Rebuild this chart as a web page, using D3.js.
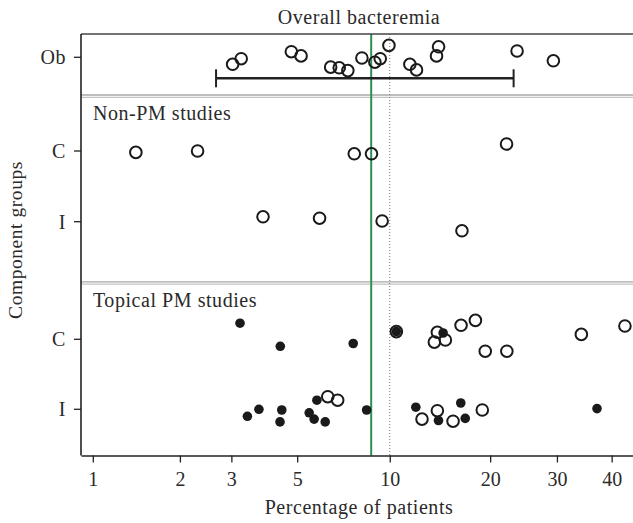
<!DOCTYPE html>
<html>
<head>
<meta charset="utf-8">
<script src="https://cdn.jsdelivr.net/npm/d3@7"></script>
<style>
  body { margin: 0; background: #fff; }
</style>
</head>
<body>
<div id="chart"></div>
<script>
// percentages, jitter in row units (1 = distance between rows)
var obPct = [3.03, 3.24, 4.78, 5.15, 6.45, 6.88, 7.34, 8.15, 8.97, 9.33, 9.94, 11.56, 12.12, 13.95, 14.15, 23.7, 29.4];
var obJit = [-0.10, -0.02, 0.08, 0.02, -0.14, -0.15, -0.19, -0.01, -0.07, -0.02, 0.17, -0.10, -0.18, 0.02, 0.15, 0.09, -0.05];
var obInterval = [2.66, 23.2];
var pooledPct = 8.73;
var refPct = 10;

var nonC = [1.41, 2.30, 7.70, 8.75, 22.2];
var nonCJit = [-0.02, 0.00, -0.04, -0.04, 0.10];
var nonI = [3.84, 5.93, 9.46, 16.6];
var nonIJit = [0.07, 0.05, 0.01, -0.13];

var topCOpen = [10.49, 14.03, 13.74, 14.83, 16.50, 18.16, 19.37, 22.24, 34.3, 42.6];
var topCOpenJit = [0.11, 0.10, -0.04, -0.01, 0.20, 0.27, -0.17, -0.17, 0.07, 0.19];
var topCFilled = [3.21, 4.39, 7.64, 10.49, 14.60];
var topCFilledJit = [0.23, -0.10, -0.06, 0.11, 0.09];
var topIOpen = [6.31, 6.80, 12.60, 14.03, 15.63, 19.0];
var topIOpenJit = [0.18, 0.13, -0.14, -0.02, -0.17, -0.01];
var topIFilled = [3.40, 3.72, 4.44, 4.38, 5.48, 5.69, 6.19, 5.81, 8.44, 12.06, 14.14, 16.47, 16.97, 37.2];
var topIFilledJit = [-0.10, 0.00, -0.01, -0.18, -0.05, -0.14, -0.18, 0.13, -0.01, 0.03, -0.16, 0.09, -0.13, 0.01];

var rowKeys = ["Ob", "nonC", "nonI", "topC", "topI"];
var rowLabels = ["Ob", "C", "I", "C", "I"];
var tickPct = [1, 2, 3, 5, 10, 20, 30, 40];

var width = 633, height = 523;
var plotLeft = 81, plotTop = 34, plotBottom = 455.5;
var serif = '"Liberation Serif", "Times New Roman", serif';

function logit(p) { p = p / 100; return Math.log(p / (1 - p)); }

var svg = d3.select('#chart').append('svg')
  .attr('width', width)
  .attr('height', height)
  .style('font-family', serif);

var x = d3.scaleLinear()
  .domain([logit(0.91), logit(46)])
  .range([plotLeft, 642]);

var rowY = d3.scaleOrdinal().domain(rowKeys).range([57.3, 151, 221.7, 339.3, 409.3]);
var jit = d3.scaleLinear().domain([0, 1]).range([0, -70]);

function pts(pct, jitter, row) {
  return pct.map(function(p, i) { return { p: p, j: jitter[i], row: row }; });
}
var openPts = [].concat(
  pts(obPct, obJit, "Ob"),
  pts(nonC, nonCJit, "nonC"),
  pts(nonI, nonIJit, "nonI"),
  pts(topCOpen, topCOpenJit, "topC"),
  pts(topIOpen, topIOpenJit, "topI"));
var filledPts = [].concat(
  pts(topCFilled, topCFilledJit, "topC"),
  pts(topIFilled, topIFilledJit, "topI"));

function label(sel, size) {
  return sel.style('font-family', serif).style('font-size', size + 'px')
    .style('letter-spacing', '0.55px').style('fill', '#2a2a2a');
}

var g = svg.append('g');
svg.append('clipPath').attr('id', 'clip')
  .append('rect').attr('x', plotLeft).attr('y', plotTop)
  .attr('width', width - plotLeft).attr('height', plotBottom - plotTop);

// panel separators (double grey lines)
[[95, 97.4], [281.8, 284.2]].forEach(function(pair) {
  g.append('line').attr('x1', plotLeft).attr('x2', width).attr('y1', pair[0]).attr('y2', pair[0])
    .style('stroke', '#a8a8a8').style('stroke-width', 1.3);
  g.append('line').attr('x1', plotLeft).attr('x2', width).attr('y1', pair[1]).attr('y2', pair[1])
    .style('stroke', '#c4c4c4').style('stroke-width', 1.3);
});

// reference line at 10%
g.append('line')
  .attr('x1', x(logit(refPct))).attr('x2', x(logit(refPct)))
  .attr('y1', plotTop).attr('y2', plotBottom)
  .style('stroke', '#777').style('stroke-width', 1).style('stroke-dasharray', '1,2');

// pooled estimate
g.append('line')
  .attr('x1', x(logit(pooledPct))).attr('x2', x(logit(pooledPct)))
  .attr('y1', plotTop).attr('y2', plotBottom)
  .style('stroke', '#2f8f52').style('stroke-width', 2);

// interval in the top panel
var ciY = rowY("Ob") + 21;
g.append('line')
  .attr('x1', x(logit(obInterval[0]))).attr('x2', x(logit(obInterval[1])))
  .attr('y1', ciY).attr('y2', ciY)
  .style('stroke', '#222').style('stroke-width', 2.5);
g.selectAll('.cap').data(obInterval).enter().append('line')
  .attr('class', 'cap')
  .attr('x1', function(d) { return x(logit(d)); })
  .attr('x2', function(d) { return x(logit(d)); })
  .attr('y1', ciY - 9).attr('y2', ciY + 9)
  .style('stroke', '#222').style('stroke-width', 2);

var marks = g.append('g').attr('clip-path', 'url(#clip)');
marks.selectAll('circle.open')
  .data(openPts)
  .enter().append('circle')
  .attr('class', 'open')
  .attr('cx', function(d) { return x(logit(d.p)); })
  .attr('cy', function(d) { return rowY(d.row) + jit(d.j); })
  .attr('r', 5.8)
  .style('fill', 'none')
  .style('stroke', '#1a1a1a')
  .style('stroke-width', 2);
marks.selectAll('circle.filled')
  .data(filledPts)
  .enter().append('circle')
  .attr('class', 'filled')
  .attr('cx', function(d) { return x(logit(d.p)); })
  .attr('cy', function(d) { return rowY(d.row) + jit(d.j); })
  .attr('r', 4.8)
  .style('fill', '#1a1a1a');

// frame
g.append('line').attr('x1', plotLeft).attr('x2', width).attr('y1', plotTop).attr('y2', plotTop)
  .style('stroke', '#444').style('stroke-width', 1.5);
g.append('line').attr('x1', plotLeft).attr('x2', plotLeft).attr('y1', plotTop).attr('y2', plotBottom)
  .style('stroke', '#222').style('stroke-width', 1.6);

// x axis
var xAxis = d3.axisBottom(x)
  .tickValues(tickPct.map(logit))
  .tickFormat(function(d, i) { return tickPct[i]; })
  .tickSizeInner(7)
  .tickSizeOuter(0)
  .tickPadding(9);
var ax = svg.append('g').attr('transform', 'translate(0,' + plotBottom + ')').call(xAxis);
ax.attr('font-family', null).attr('font-size', null);
ax.select('.domain').style('stroke', '#222').style('stroke-width', 1.6);
ax.selectAll('.tick line').style('stroke', '#222').style('stroke-width', 1.3);
label(ax.selectAll('.tick text'), 20).style('letter-spacing', '0px');

// y ticks
var yt = svg.selectAll('.ytick').data(rowKeys).enter().append('g')
  .attr('class', 'ytick')
  .attr('transform', function(d) { return 'translate(0,' + rowY(d) + ')'; });
yt.append('line').attr('x1', plotLeft - 7).attr('x2', plotLeft)
  .style('stroke', '#222').style('stroke-width', 1.3);
label(yt.append('text'), 20)
  .attr('x', plotLeft - 15).attr('dy', '0.34em')
  .attr('text-anchor', 'end')
  .text(function(d, i) { return rowLabels[i]; });

// titles
label(svg.append('text'), 20).attr('x', 359).attr('y', 24).attr('text-anchor', 'middle')
  .text('Overall bacteremia');
label(svg.append('text'), 20).attr('x', 93).attr('y', 120)
  .text('Non-PM studies');
label(svg.append('text'), 20).attr('x', 93).attr('y', 307)
  .text('Topical PM studies');
label(svg.append('text'), 20).attr('x', 359).attr('y', 514).attr('text-anchor', 'middle')
  .text('Percentage of patients');
label(svg.append('text'), 19.5)
  .attr('transform', 'translate(22,240) rotate(-90)')
  .attr('text-anchor', 'middle')
  .text('Component groups');
</script>
</body>
</html>
